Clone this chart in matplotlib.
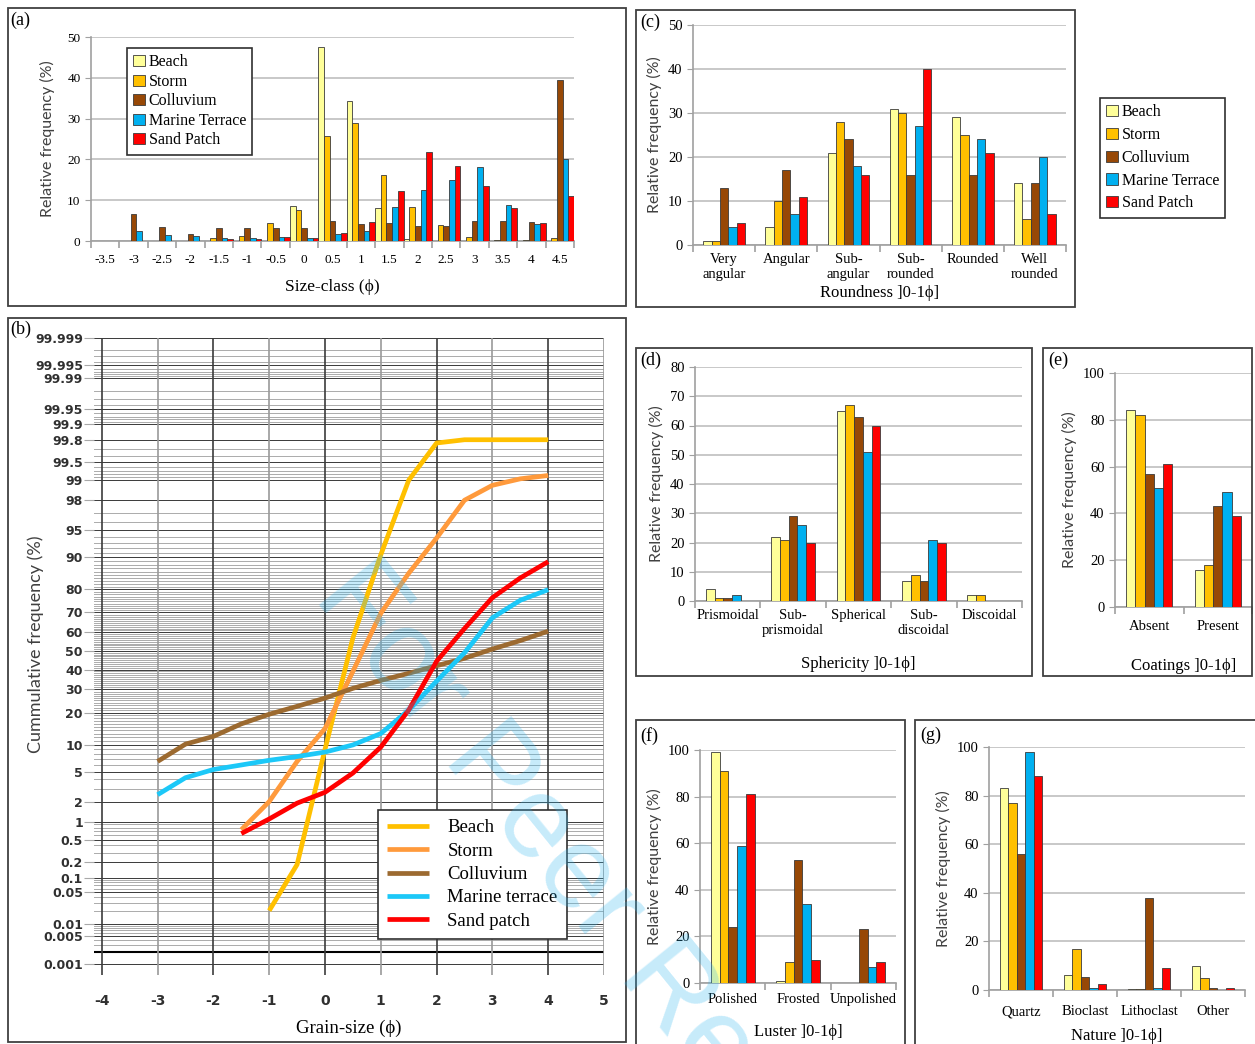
import numpy as np
import matplotlib
matplotlib.use("Agg")
import matplotlib.pyplot as plt
from matplotlib.patches import Rectangle, Patch
from statistics import NormalDist

plt.rcParams['axes.unicode_minus'] = False
SERIF = ['Liberation Serif', 'DejaVu Serif']
SANS = ['Lato', 'DejaVu Sans']

W, H = 1255, 1044
fig = plt.figure(figsize=(W / 100, H / 100), dpi=100)

names = ['Beach', 'Storm', 'Colluvium', 'Marine Terrace', 'Sand Patch']
bar_colors = ['#FFFF99', '#FFC000', '#974806', '#00B0F0', '#FF0000']

# (a) size-class histogram
size_classes = ['-3.5', '-3', '-2.5', '-2', '-1.5', '-1', '-0.5', '0', '0.5', '1',
                '1.5', '2', '2.5', '3', '3.5', '4', '4.5']
a_beach = [0, 0, 0, 0, 0, 0, 0, 8.7, 47.5, 34.3, 8.0, 0.5, 0, 0, 0, 0, 0]
a_storm = [0, 0, 0, 0, 0.7, 1.3, 4.3, 7.5, 25.8, 29.0, 16.2, 8.4, 4.0, 1.0, 0.2, 0.2, 0.8]
a_coll = [0, 6.5, 3.5, 1.7, 3.3, 3.2, 3.3, 3.3, 4.8, 4.2, 4.5, 3.7, 3.7, 4.8, 4.8, 4.7, 39.5]
a_marine = [0, 2.5, 1.5, 1.3, 0.7, 0.7, 0.9, 0.7, 1.7, 2.5, 8.3, 12.6, 15.0, 18.2, 8.8, 4.2, 20.0]
a_sand = [0, 0, 0, 0, 0.6, 0.4, 0.9, 0.8, 2.0, 4.7, 12.3, 21.7, 18.5, 13.6, 8.0, 4.5, 11.1]

# (b) cumulative curves
phi_beach = [-1, -0.5, 0, 0.5, 1, 1.5, 2, 2.5, 3, 3.5, 4]
cum_beach = [0.02, 0.18, 9, 57, 90.5, 99, 99.77, 99.8, 99.8, 99.8, 99.8]
phi_storm = [-1.5, -1, -0.5, 0, 0.5, 1, 1.5, 2, 2.5, 3, 3.5, 4]
cum_storm = [0.74, 2.0, 6.6, 14.5, 39, 69.6, 85.5, 93.8, 98, 98.8, 99.05, 99.16]
phi_coll = [-3, -2.5, -2, -1.5, -1, -0.5, 0, 0.5, 1, 1.5, 2, 2.5, 3, 3.5, 4]
cum_coll = [6.6, 10.2, 12.2, 16, 19.4, 22.5, 26, 30.5, 34.4, 38, 42, 46, 51, 55.6, 60.6]
phi_marine = [-3, -2.5, -2, -1.5, -1, -0.5, 0, 0.5, 1, 1.5, 2, 2.5, 3, 3.5, 4]
cum_marine = [2.5, 4.2, 5.3, 6, 6.8, 7.5, 8.4, 10, 13, 21, 34, 49, 67.4, 75.5, 79.8]
phi_sand = [-1.5, -1, -0.5, 0, 0.5, 1, 1.5, 2, 2.5, 3, 3.5, 4]
cum_sand = [0.64, 1.1, 1.9, 2.7, 4.8, 9.5, 21, 44.4, 62, 76.6, 84, 88.8]
line_names = ['Beach', 'Storm', 'Colluvium', 'Marine terrace', 'Sand patch']
line_colors = ['#FFC000', '#FF9A3C', '#9C6A30', '#1CC8F8', '#FF0000']
prob_ticks = [0.001, 0.005, 0.01, 0.05, 0.1, 0.2, 0.5, 1, 2, 5, 10, 20, 30, 40, 50, 60,
              70, 80, 90, 95, 98, 99, 99.5, 99.8, 99.9, 99.95, 99.99, 99.995, 99.999]
prob_labels = ['0.001', '0.005', '0.01', '0.05', '0.1', '0.2', '0.5', '1', '2', '5', '10',
               '20', '30', '40', '50', '60', '70', '80', '90', '95', '98', '99', '99.5',
               '99.8', '99.9', '99.95', '99.99', '99.995', '99.999']

# (c) roundness
round_cats = ['Very\nangular', 'Angular', 'Sub-\nangular', 'Sub-\nrounded', 'Rounded', 'Well\nrounded']
c_beach = [1, 4, 21, 31, 29, 14]
c_storm = [1, 10, 28, 30, 25, 6]
c_coll = [13, 17, 24, 16, 16, 14]
c_marine = [4, 7, 18, 27, 24, 20]
c_sand = [5, 11, 16, 40, 21, 7]

# (d) sphericity
sph_cats = ['Prismoidal', 'Sub-\nprismoidal', 'Spherical', 'Sub-\ndiscoidal', 'Discoidal']
d_beach = [4, 22, 65, 7, 2]
d_storm = [1, 21, 67, 9, 2]
d_coll = [1, 29, 63, 7, 0]
d_marine = [2, 26, 51, 21, 0]
d_sand = [0, 20, 60, 20, 0]

# (e) coatings
coat_cats = ['Absent', 'Present']
e_beach = [84, 16]
e_storm = [82, 18]
e_coll = [57, 43]
e_marine = [51, 49]
e_sand = [61, 39]

# (f) luster
lus_cats = ['Polished', 'Frosted', 'Unpolished']
f_beach = [99, 1, 0]
f_storm = [91, 9, 0]
f_coll = [24, 53, 23]
f_marine = [59, 34, 7]
f_sand = [81, 10, 9]

# (g) nature
nat_cats = ['Quartz', 'Bioclast', 'Lithoclast', 'Other']
g_beach = [83, 6, 0.5, 10]
g_storm = [77, 17, 0.5, 5]
g_coll = [56, 5.5, 38, 1]
g_marine = [98, 1, 1, 0]
g_sand = [88, 2.5, 9, 1]


def px_axes(l, t, r, b):
    return fig.add_axes([l / W, 1 - b / H, (r - l) / W, (b - t) / H])


def frame(l, t, r, b):
    fig.patches.append(Rectangle((l / W, 1 - b / H), (r - l) / W, (b - t) / H,
                                 transform=fig.transFigure, fill=False,
                                 edgecolor='#404040', lw=1.3, zorder=0))


def letter(x, y, s):
    fig.text(x / W, 1 - y / H, s, family=SERIF, fontsize=13, va='top', ha='left')


def bar_panel(ax, cats, series, ymax, ystep, fill, fs=10.5, ylab_fs=11.5):
    x = np.arange(len(cats))
    w = fill / 5
    for i, vals in enumerate(series):
        ax.bar(x + (i - 2) * w, vals, w, color=bar_colors[i], edgecolor='#3a3a3a',
               lw=0.6, zorder=3)
    ax.set_xlim(-0.5, len(cats) - 0.5)
    ax.set_ylim(0, ymax)
    ax.set_yticks(np.arange(0, ymax + 0.1, ystep))
    ax.yaxis.grid(True, color='#c4c4c4', lw=1.3)
    ax.set_axisbelow(True)
    for s in ['top', 'right']:
        ax.spines[s].set_visible(False)
    for s in ['left', 'bottom']:
        ax.spines[s].set_color('#a0a0a0')
        ax.spines[s].set_linewidth(1.2)
    ax.set_xticks(x, cats)
    ax.set_xticks(np.arange(-0.5, len(cats), 1), minor=True)
    ax.tick_params(axis='x', which='major', length=0, pad=6, labelsize=fs)
    ax.tick_params(axis='x', which='minor', length=5, color='#a0a0a0', width=1.2)
    ax.tick_params(axis='y', length=4, color='#a0a0a0', labelsize=fs)
    for t in ax.get_xticklabels() + ax.get_yticklabels():
        t.set_family(SERIF)
        t.set_linespacing(1.15)
    ax.set_ylabel('Relative frequency (%)', family=SANS, fontsize=ylab_fs, color='#404040')


def bar_legend(ax, loc, bbox, fs=11, spacing=0.45):
    handles = [Patch(facecolor=c, edgecolor='#3a3a3a', lw=0.6) for c in bar_colors]
    leg = ax.legend(handles, names, loc=loc, bbox_to_anchor=bbox,
                    bbox_transform=fig.transFigure, fancybox=False, framealpha=1,
                    edgecolor='#303030', handlelength=0.7, handleheight=0.7,
                    handletextpad=0.25, labelspacing=spacing, borderpad=0.4,
                    borderaxespad=0, prop={'family': SERIF, 'size': fs})
    leg.get_frame().set_linewidth(1.2)
    return leg


# ---------- (a)
frame(8, 8, 626, 306)
letter(10, 12, '(a)')
ax_a = px_axes(91, 37, 574, 241)
bar_panel(ax_a, size_classes, [a_beach, a_storm, a_coll, a_marine, a_sand], 50, 10, 1.0,
          fs=9.5)
ax_a.tick_params(axis='x', which='major', pad=9)
ax_a.set_xlabel('Size-class (ϕ)', family=SERIF, fontsize=12.5, labelpad=10)
ax_a.yaxis.set_label_coords(-0.075, 0.5)
bar_legend(ax_a, 'upper left', (127 / W, 1 - 48 / H), fs=11.5, spacing=0.22)

# ---------- (c)
frame(636, 10, 1075, 307)
letter(640, 14, '(c)')
ax_c = px_axes(693, 25, 1066, 245)
bar_panel(ax_c, round_cats, [c_beach, c_storm, c_coll, c_marine, c_sand], 50, 10, 0.67)
ax_c.set_xlabel('Roundness ]0-1ϕ]', family=SERIF, fontsize=12, labelpad=3)
bar_legend(ax_c, 'upper left', (1100 / W, 1 - 98 / H), fs=11.5, spacing=0.42)

# ---------- (d)
frame(636, 348, 1032, 676)
letter(640, 352, '(d)')
ax_d = px_axes(695, 367, 1022, 601)
bar_panel(ax_d, sph_cats, [d_beach, d_storm, d_coll, d_marine, d_sand], 80, 10, 0.67)
ax_d.set_xlabel('Sphericity ]0-1ϕ]', family=SERIF, fontsize=12, labelpad=14)

# ---------- (e)
frame(1043, 348, 1252, 676)
letter(1048, 352, '(e)')
ax_e = px_axes(1115, 373, 1252, 607)
bar_panel(ax_e, coat_cats, [e_beach, e_storm, e_coll, e_marine, e_sand], 100, 20, 0.67)
ax_e.tick_params(axis='x', which='major', pad=9)
ax_e.set_xlabel('Coatings ]0-1ϕ]', family=SERIF, fontsize=12, labelpad=18)

# ---------- (f)
frame(636, 720, 905, 1050)
letter(640, 727, '(f)')
ax_f = px_axes(700, 750, 896, 983)
bar_panel(ax_f, lus_cats, [f_beach, f_storm, f_coll, f_marine, f_sand], 100, 20, 0.67)
ax_f.tick_params(axis='x', which='major', pad=7)
ax_f.set_xlabel('Luster ]0-1ϕ]', family=SERIF, fontsize=12, labelpad=13)

# ---------- (g)
frame(915, 720, 1262, 1050)
letter(920, 727, '(g)')
ax_g = px_axes(989, 747, 1245, 990)
bar_panel(ax_g, nat_cats, [g_beach, g_storm, g_coll, g_marine, g_sand], 100, 20, 0.67)
ax_g.tick_params(axis='x', which='major', pad=11)
ax_g.set_xlabel('Nature ]0-1ϕ]', family=SERIF, fontsize=12, labelpad=7)

# ---------- (b) probability paper
frame(8, 318, 626, 1042)
letter(10, 321, '(b)')
nd = NormalDist()
_ppf = np.vectorize(nd.inv_cdf, otypes=[float])
_cdf = np.vectorize(nd.cdf, otypes=[float])


def fwd(p):
    p = np.clip(np.asarray(p, float) / 100.0, 1e-12, 1 - 1e-12)
    return _ppf(p)


def inv(z):
    return _cdf(np.asarray(z, float)) * 100.0


ax_b = px_axes(94, 338, 604, 975)
ax_b.set_yscale('function', functions=(fwd, inv))
ax_b.set_xlim(-4.14, 5)
ax_b.set_ylim(0.0005, 99.999)

grid_vals = []
grid_vals += list(np.arange(0.001, 0.01, 0.001))
grid_vals += list(np.arange(0.01, 0.1, 0.01))
grid_vals += list(np.arange(0.1, 1, 0.1))
grid_vals += list(np.arange(1, 100, 1))
grid_vals += list(100 - np.arange(0.1, 1, 0.1))
grid_vals += list(100 - np.arange(0.01, 0.1, 0.01))
grid_vals += list(100 - np.arange(0.001, 0.01, 0.001))
for v in grid_vals:
    ax_b.axhline(v, color='#ababab', lw=0.7, zorder=1)
for v in prob_ticks:
    ax_b.axhline(v, color='#3c3c3c', lw=0.7, zorder=1.5)
ax_b.axhline(0.002, color='#000000', lw=1.5, zorder=1.6)
for xv in range(-4, 6):
    ax_b.axvline(xv, color='#3c3c3c' if xv % 2 == 0 else '#9a9a9a', lw=1.2, zorder=1.7)

for xs, ys, col, lab in zip([phi_beach, phi_storm, phi_coll, phi_marine, phi_sand],
                            [cum_beach, cum_storm, cum_coll, cum_marine, cum_sand],
                            line_colors, line_names):
    ax_b.plot(xs, ys, color=col, lw=3.4, label=lab, zorder=4, solid_capstyle='butt')

for s in ax_b.spines.values():
    s.set_visible(False)
ax_b.set_yticks(prob_ticks, prob_labels)
ax_b.minorticks_off()
ax_b.set_xticks(range(-4, 6))
ax_b.tick_params(axis='y', length=7, color='#a8a8a8', pad=1, labelsize=9)
ax_b.tick_params(axis='x', length=0, pad=14, labelsize=10)
for t in ax_b.get_xticklabels() + ax_b.get_yticklabels():
    t.set_family('DejaVu Sans')
    t.set_weight('bold')
    t.set_color('#303030')
ax_b.set_xlabel('Grain-size (ϕ)', family=SERIF, fontsize=13.5, labelpad=8)
ax_b.set_ylabel('Cummulative frequency (%)', family=SANS, fontsize=13, color='#404040')
ax_b.yaxis.set_label_coords(-0.098, 0.52)
leg_b = ax_b.legend(loc='upper left', bbox_to_anchor=(378 / W, 1 - 810 / H),
                    bbox_transform=fig.transFigure, fancybox=False, framealpha=1,
                    edgecolor='#303030', handlelength=2.2, handletextpad=1.0,
                    labelspacing=0.33, borderpad=0.5, borderaxespad=0,
                    prop={'family': SERIF, 'size': 13.5})
leg_b.get_frame().set_linewidth(1.2)
leg_b.set_zorder(10)

# watermark
fig.text(335 / W, 1 - 578 / H, 'For Peer Review', rotation=-51, rotation_mode='anchor',
         ha='left', va='center', fontsize=84, family='Liberation Sans',
         color='#33B8F0', alpha=0.28, zorder=20)

fig.savefig('out.png', dpi=100, facecolor='white')
